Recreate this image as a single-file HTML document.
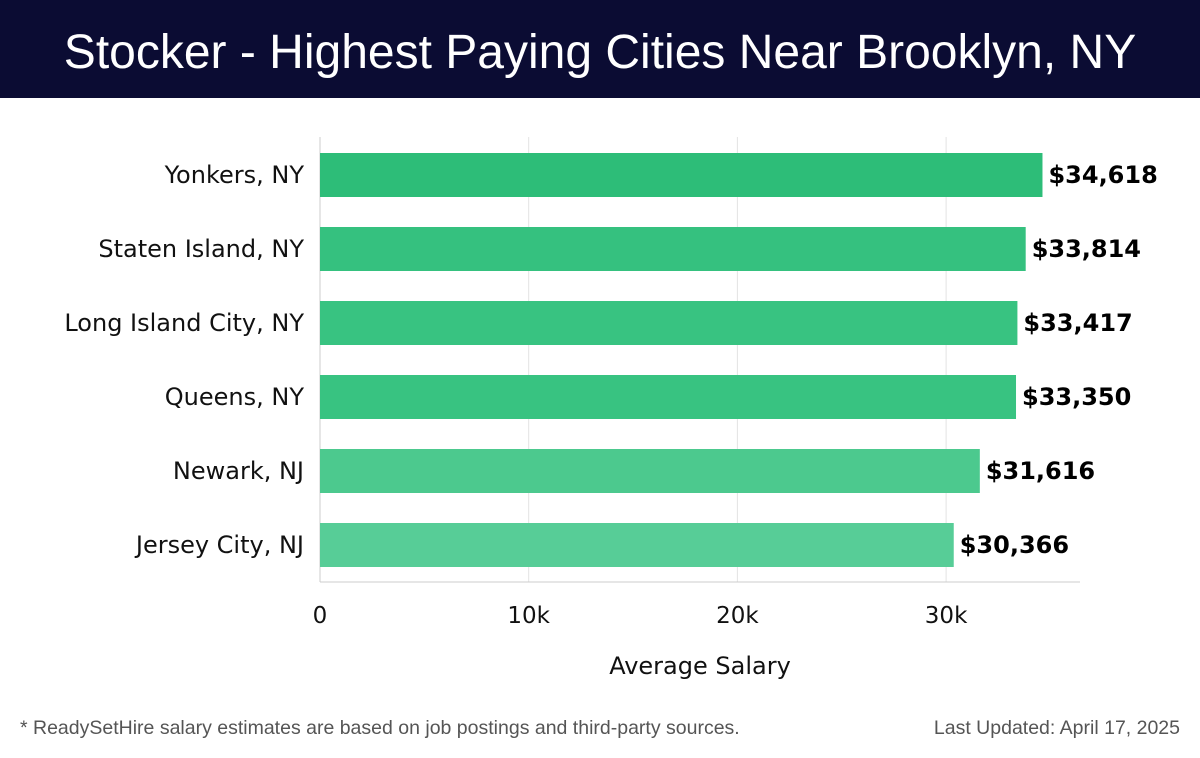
<!DOCTYPE html>
<html><head><meta charset="utf-8"><style>
body{margin:0;width:1200px;height:758px;background:#fff;font-family:"Liberation Sans",sans-serif;overflow:hidden}
#hdr{position:absolute;left:0;top:0;width:1200px;height:98px;background:#0b0c33;color:#fff;font-size:48px;text-align:center;line-height:106px}
.foot{position:absolute;top:717px;font-size:19.5px;color:#555}
svg text{font-family:"DejaVu Sans",sans-serif}
</style></head><body>
<div id="hdr">Stocker - Highest Paying Cities Near Brooklyn, NY</div>
<svg id="c" width="1200" height="758" style="position:absolute;left:0;top:0"></svg>
<div class="foot" style="left:20px">* ReadySetHire salary estimates are based on job postings and third-party sources.</div>
<div class="foot" style="right:20px">Last Updated: April 17, 2025</div>
<script>
const categories=["Yonkers, NY","Staten Island, NY","Long Island City, NY","Queens, NY","Newark, NJ","Jersey City, NJ"];
const values=[34618,33814,33417,33350,31616,30366];
const valueLabels=["$34,618","$33,814","$33,417","$33,350","$31,616","$30,366"];
const tickValues=[0,10000,20000,30000];
const tickLabels=["0","10k","20k","30k"];
const colors=["#2dbd78","#35c17f","#38c381","#38c381","#4cc98e","#57cd97"];
const svg=document.getElementById('c');const NS="http://www.w3.org/2000/svg";
const x=v=>320+v*0.02087;const yc=i=>175+i*74;
function mk(t,a,txt){const e=document.createElementNS(NS,t);for(const k in a)e.setAttribute(k,a[k]);if(txt!==undefined)e.textContent=txt;svg.appendChild(e);return e;}
tickValues.forEach((v,i)=>{
const g=mk('line',{x1:x(v),x2:x(v),y1:137,y2:582,stroke:i?'#e3e3e3':'#ccc'});


const t=mk('text',{x:x(v),y:623,'text-anchor':'middle','font-size':23,fill:'#111'},tickLabels[i]);


});
const ax=mk('line',{x1:320,x2:1080,y1:582,y2:582,stroke:'#ccc'});


const xt=mk('text',{x:700,y:674,'text-anchor':'middle','font-size':24,fill:'#111'},'Average Salary');


categories.forEach((c,i)=>{
const r=mk('rect',{x:320,y:yc(i)-22,width:x(values[i])-320,height:44,fill:colors[i]});


const l=mk('text',{x:304,y:yc(i)+8,'text-anchor':'end','font-size':24,fill:'#111'},c);


const v=mk('text',{x:x(values[i])+6,y:yc(i)+8,'font-size':24,'font-weight':'bold',fill:'#000'},valueLabels[i]);


});
</script>
</body></html>
